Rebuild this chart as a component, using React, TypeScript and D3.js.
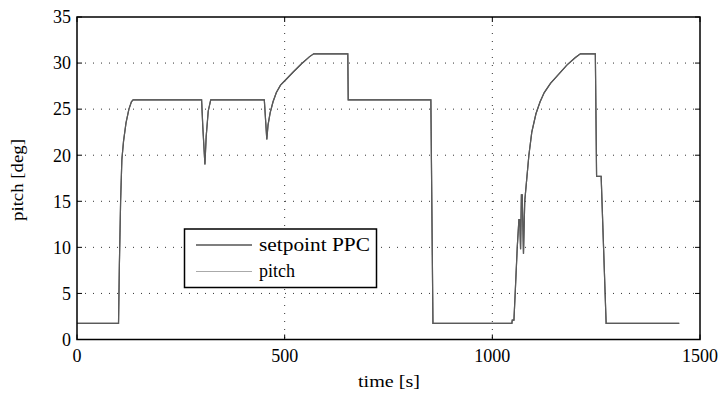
import React from "react";
import * as d3 from "d3";

const times = [0, 100, 102, 105, 108, 112, 118, 125, 131, 135, 300, 303, 308, 311, 316, 322, 451, 457, 460, 465, 472, 480, 490, 505, 520, 540, 560, 570, 652, 653, 852, 857, 1047, 1048, 1052, 1055, 1060, 1064, 1066, 1068, 1070, 1072, 1075, 1078, 1082, 1088, 1095, 1105, 1115, 1125, 1140, 1160, 1180, 1200, 1212, 1248, 1251, 1262, 1274, 1450];
const setpointPPC = [1.75, 1.75, 8, 15, 19.5, 21.5, 23.5, 25, 25.8, 26, 26, 23, 19, 22, 24.8, 26, 26, 21.7, 23.3, 24.6, 25.8, 26.8, 27.6, 28.3, 29, 29.9, 30.7, 31, 31, 26, 26, 1.75, 1.75, 2.1, 2.1, 5, 10, 13, 13, 9.8, 15.7, 15.7, 9.3, 15, 17, 20, 22.5, 24.5, 25.8, 26.8, 27.8, 28.8, 29.8, 30.6, 31, 31, 17.7, 17.7, 1.75, 1.75];
const pitch = [1.75, 1.75, 8, 15, 19.5, 21.5, 23.5, 25, 25.8, 26, 26, 23, 19, 22, 24.8, 26, 26, 21.7, 23.3, 24.6, 25.8, 26.8, 27.6, 28.3, 29, 29.9, 30.7, 31, 31, 26, 26, 1.75, 1.75, 2.1, 2.1, 5, 10, 13, 13, 9.8, 15.7, 15.7, 9.3, 15, 17, 20, 22.5, 24.5, 25.8, 26.8, 27.8, 28.8, 29.8, 30.6, 31, 31, 17.7, 17.7, 1.75, 1.75];
const xTicks = [0, 500, 1000, 1500];
const yTicks = [0, 5, 10, 15, 20, 25, 30, 35];
const legendLabels = ["setpoint PPC", "pitch"];

const W = 721, H = 395;
const L = 77, R = 700, T = 17, B = 339.5;
const FONT = "Times New Roman, Liberation Serif, serif";

export default function App() {
  const x = d3.scaleLinear().domain([0, 1500]).range([L, R]);
  const y = d3.scaleLinear().domain([0, 35]).range([B, T]);
  const line = d3.line<number>().x((_, i) => x(times[i])).y((d) => y(d));
  const tick = 5;
  const ts = { fontFamily: FONT };
  return (
    <svg width={W} height={H} style={{ position: "absolute", left: 0, top: 0, background: "#fff" }}>
      {yTicks.slice(1, -1).map((v) => (
        <line key={"gy" + v} x1={L} x2={R} y1={y(v)} y2={y(v)} stroke="#333" strokeWidth={1} strokeDasharray="1,7" />
      ))}
      {xTicks.slice(1, -1).map((v) => (
        <line key={"gx" + v} x1={x(v)} x2={x(v)} y1={T} y2={B} stroke="#333" strokeWidth={1} strokeDasharray="1,7" />
      ))}
      {yTicks.map((v) => (
        <g key={"ty" + v}>
          <line x1={L} x2={L + tick} y1={y(v)} y2={y(v)} stroke="#000" />
          <line x1={R} x2={R - tick} y1={y(v)} y2={y(v)} stroke="#000" />
          <text x={71} y={y(v)} dy="0.35em" textAnchor="end" style={ts} fontSize={18}>{v}</text>
        </g>
      ))}
      {xTicks.map((v) => (
        <g key={"tx" + v}>
          <line x1={x(v)} x2={x(v)} y1={B} y2={B - tick} stroke="#000" />
          <line x1={x(v)} x2={x(v)} y1={T} y2={T + tick} stroke="#000" />
          <text x={x(v)} y={362} textAnchor="middle" style={ts} fontSize={18}>{v}</text>
        </g>
      ))}
      <path d={line(setpointPPC) || ""} fill="none" stroke="#000" strokeWidth={1.2} />
      <path d={line(pitch) || ""} fill="none" stroke="#808080" strokeWidth={1.2} strokeOpacity={0.7} />
      <rect x={L} y={T} width={R - L} height={B - T} fill="none" stroke="#000" strokeWidth={1.5} />
      <rect x={184.5} y={229} width={192} height={58.5} fill="#fff" stroke="#000" strokeWidth={1.5} />
      {legendLabels.map((lab, i) => (
        <g key={lab}>
          <line x1={196} x2={252} y1={245 + i * 26.5} y2={245 + i * 26.5} stroke={i === 0 ? "#000" : "#aaa"} strokeWidth={1.2} />
          <text x={259} y={245 + i * 26.5} dy="0.32em" style={ts} fontSize={18} textLength={i === 0 ? 111 : undefined} lengthAdjust="spacingAndGlyphs">{lab}</text>
        </g>
      ))}
      <text x={389} y={387} textAnchor="middle" style={ts} fontSize={17} textLength={62} lengthAdjust="spacingAndGlyphs">time [s]</text>
      <text transform={`translate(23,180) rotate(-90)`} textAnchor="middle" style={ts} fontSize={17} textLength={82} lengthAdjust="spacingAndGlyphs">pitch [deg]</text>
    </svg>
  );
}
